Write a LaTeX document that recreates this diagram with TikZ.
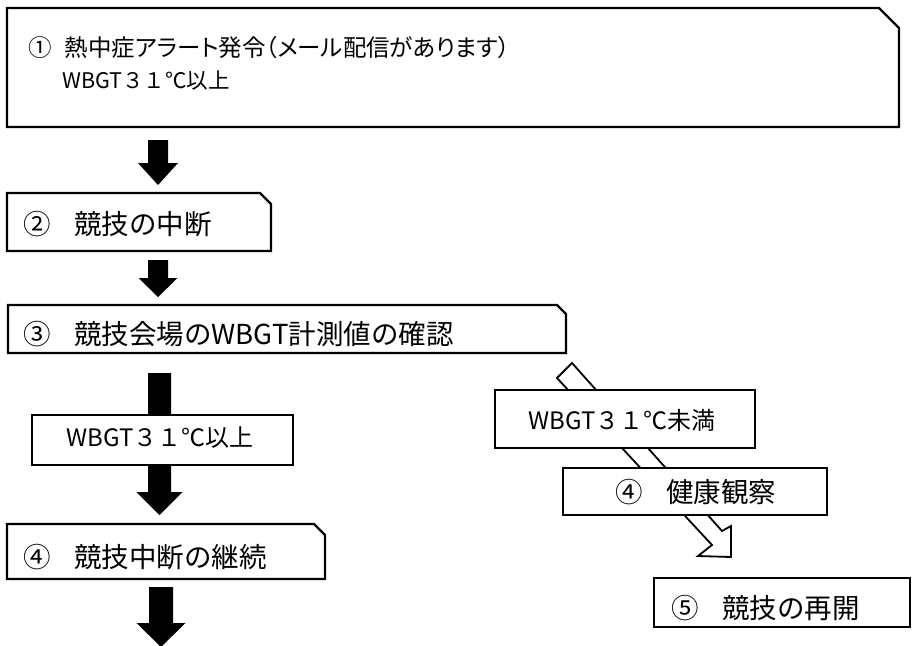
\documentclass[tikz,border=0pt]{standalone}
\usepackage{fontspec}
\setmainfont{Noto Sans CJK JP}
\newfontfamily\pfont[RawFeature=+palt]{Noto Sans CJK JP}
\usetikzlibrary{calc}
\tikzset{
  boxline/.style={draw=black, line width=2.2pt, fill=white, line join=miter},
  lbl/.style={anchor=west, inner sep=0pt, font=\fontsize{27.5}{32}\selectfont},
  condlbl/.style={anchor=west, inner sep=0pt, font=\fontsize{24}{29}\selectfont},
  toplbl/.style={anchor=west, inner sep=0pt, font=\pfont\fontsize{23.5}{28}\selectfont},
  topsub/.style={anchor=west, inner sep=0pt, font=\fontsize{21.5}{26}\selectfont},
  blk/.style={fill=black},
  hollow/.style={draw=black, line width=1.8pt, fill=white, line join=miter},
}
% box with the top right corner cut: name, x1, y1, x2, y2, cut
\newcommand{\cutbox}[6]{%
  \draw[boxline] (#2,#3) -- (#4-#6,#3) -- (#4,#3+#6) -- (#4,#5) -- (#2,#5) -- cycle;
  \coordinate (#1) at ({(#2+#4)/2},{(#3+#5)/2});}
\newcommand{\plainbox}[5]{%
  \draw[boxline] (#2,#3) rectangle (#4,#5);
  \coordinate (#1) at ({(#2+#4)/2},{(#3+#5)/2});}
% block arrow pointing down: name, xc, ytop, yneck, ytip, shaft half, head half
\newcommand{\blkarrow}[7]{%
  \coordinate (#1) at (#2,#3);
  \fill[blk] (#2-#6,#3) -- (#2+#6,#3) -- (#2+#6,#4) -- (#2+#7,#4) -- (#2,#5)
     -- (#2-#7,#4) -- (#2-#6,#4) -- cycle;}
\newcommand{\numgap}{\hspace{0.85em}}
\begin{document}
\begin{tikzpicture}[x=1pt,y=-1pt]
\useasboundingbox[fill=white] (0,0) rectangle (912,645);

% block arrows (left column)
\blkarrow{a1}{158}{140}{163}{185}{10}{20}
\blkarrow{a2}{158}{260}{278}{297}{10}{19.5}
\blkarrow{a3}{159.5}{373}{492}{515}{11.5}{23}
\blkarrow{a4}{161}{587}{623}{647}{12}{24.5}

% hollow diagonal arrow
\coordinate (p1) at (572,363);
\coordinate (p2) at (557,378);
\coordinate (n1) at (712,545);
\coordinate (b1) at (698,556);
\coordinate (tip) at (731,557);
\coordinate (b2) at (731,526);
\coordinate (n2) at (722,531);
\draw[hollow] (p1) -- (p2) -- (n1) -- (b1) -- (tip) -- (b2) -- (n2) -- cycle;

% boxes
\cutbox{box1}{7}{8}{899}{127}{20}
\node[toplbl] (t1a) at (28,48) {①\hspace{0.55em}熱中症アラート発令（メール配信があります）};
\node[topsub] (t1b) at (62,81) {WBGT３１℃以上};

\cutbox{box2}{7}{193}{271}{251}{11}
\node[lbl] (t2) at (23,224) {②\numgap 競技の中断};

\cutbox{box3}{8}{305}{566}{353}{9}
\node[lbl] (t3) at (23,334) {③\numgap 競技会場のWBGT計測値の確認};

\plainbox{box31}{32}{415}{293}{465}
\node[condlbl] (t31) at (66,438) {WBGT３１℃以上};

\cutbox{box4}{7}{524}{325}{579}{11}
\node[lbl] (t4) at (23,557) {④\numgap 競技中断の継続};

\plainbox{box32}{495}{390}{755}{448}
\node[condlbl] (t32) at (528,420) {WBGT３１℃未満};

\plainbox{box41}{563}{468}{827}{515}
\node[lbl] (t41) at (615,492) {④\numgap 健康観察};

\plainbox{box5}{654}{578}{910}{627}
\node[lbl] (t5) at (671,608) {⑤\numgap 競技の再開};
\end{tikzpicture}
\end{document}
